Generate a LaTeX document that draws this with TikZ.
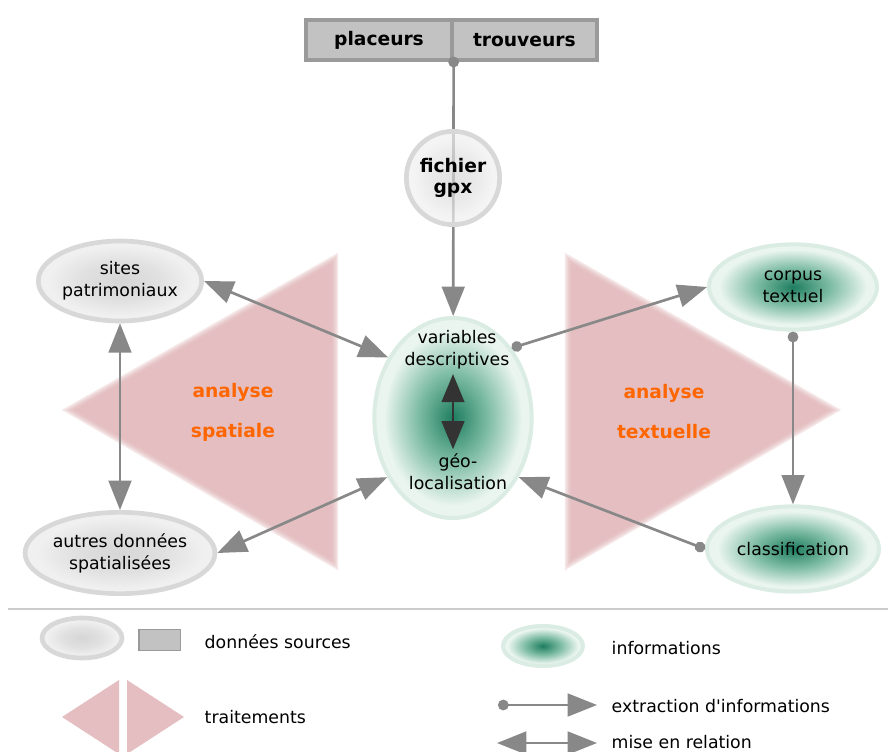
\documentclass[tikz,border=0pt]{standalone}
\usepackage{fontspec}
\setmainfont{DejaVu Sans}
\usepackage{tikz}
\usetikzlibrary{shapes.geometric,arrows.meta,positioning,calc}
\definecolor{linkgray}{RGB}{136,136,136}
\definecolor{boxfill}{RGB}{194,194,194}
\definecolor{boxline}{RGB}{154,154,154}
\definecolor{treat}{RGB}{222,177,179}
\definecolor{treatflat}{RGB}{228,190,192}
\definecolor{orng}{RGB}{255,102,0}
\definecolor{infodark}{RGB}{30,125,95}
\definecolor{infomid}{RGB}{125,188,164}
\definecolor{infopale}{RGB}{234,245,240}
\definecolor{inforim}{RGB}{218,236,228}
\definecolor{srcdark}{RGB}{214,214,214}
\definecolor{srcpale}{RGB}{240,240,240}
\definecolor{srcrim}{RGB}{216,216,216}
\definecolor{sepline}{RGB}{204,204,204}
\definecolor{darkarrow}{RGB}{51,51,51}
\pgfdeclareradialshading{infoglow}{\pgfpoint{0bp}{0bp}}{color(0bp)=(infodark);color(11bp)=(infomid);color(22bp)=(infopale);color(25bp)=(infopale);color(50bp)=(infopale)}
\pgfdeclareradialshading{srcglow}{\pgfpoint{0bp}{0bp}}{color(0bp)=(srcdark);color(12bp)=(srcdark!60!srcpale);color(22bp)=(srcpale);color(25bp)=(srcpale);color(50bp)=(srcpale)}

\begin{document}
\begin{tikzpicture}[x=0.75pt,y=-0.75pt,font=\fontsize{13}{16.5}\selectfont,
  src/.style={ellipse,inner sep=0pt,shading=srcglow,draw=srcrim,line width=3.5pt,align=center},
  info/.style={ellipse,inner sep=0pt,shading=infoglow,draw=inforim,line width=3pt,align=center},
  srcbox/.style={rectangle,draw=boxline,fill=boxfill,line width=3pt,minimum width=109pt,minimum height=30pt,font=\fontsize{14}{16}\selectfont\bfseries},
  extract/.style={linkgray,line width=2pt,{Circle[length=8pt]}-{Triangle[length=22pt,width=17pt]}},
  relate/.style={linkgray,line width=2pt,{Triangle[length=22pt,width=17pt]}-{Triangle[length=22pt,width=17pt]}},
  title/.style={text=orng,font=\fontsize{14}{30}\selectfont\bfseries,align=center},
  keytxt/.style={anchor=west}]
\useasboundingbox (0,0) rectangle (888,752);

\foreach \s in {1.035,1.017,1.0,0.983,0.965}{
  \fill[treat,opacity=0.3,shift={(246,411)},scale=\s] (-178,-1) -- (89,-153) -- (89,154) -- cycle;
  \fill[treat,opacity=0.3,shift={(657,411)},scale=\s] (178,-1) -- (-89,-153) -- (-89,154) -- cycle;
}
\node[title] (spat) at (233,412) {analyse\\spatiale};
\node[title] (text) at (664,412) {analyse\\textuelle};

\node[info,minimum width=118pt,minimum height=150pt] (ctr) at (453,418) {};
\node[align=center] (vardesc) at (457,350) {variables\\descriptives};
\node[align=center] (geoloc) at (458,472) {géo-\\localisation};
\draw[darkarrow,line width=1.5pt,{Triangle[length=21pt,width=17pt]}-{Triangle[length=21pt,width=17pt]}]
  (vardesc.south -| ctr) -- (geoloc.north -| ctr);

\node[srcbox] (plac) at (379,40) {placeurs};
\node[srcbox,right=-3pt of plac] (trouv) {trouveurs};
\coordinate (gpxsrc) at ([yshift=4pt]plac.south east);
\draw[extract] (gpxsrc) -- (ctr);
\node[src,circle,minimum size=70pt,fill opacity=0.7,text opacity=1,
  font=\fontsize{14}{16}\selectfont\bfseries] (gpx) at (453,178) {fichier\\gpx};

\node[src,minimum width=121pt,minimum height=60pt] (sites) at (120,281) {sites\\patrimoniaux};
\node[src,minimum width=124pt,minimum height=61pt] (autres) at (120,553) {autres données\\spatialisées};
\node[info,minimum width=126pt,minimum height=64pt] (corpus) at (793,287) {corpus\\textuel};
\node[info,minimum width=129pt,minimum height=64pt] (classif) at (793,549) {classification};

\draw[relate] (sites.east) -- (ctr.137);
\draw[relate] (autres.east) -- (ctr.-138);
\draw[relate] (sites.south) -- (autres.north);
\draw[extract] (ctr.50) -- (corpus.west);
\draw[extract] (corpus.south) -- (classif.north);
\draw[extract] (classif.west) -- (ctr.-42);

\draw[sepline,line width=1.5pt] (8,609) -- (888,609);

\node[src,minimum width=60pt,minimum height=30pt] (keysrc) at (82,638) {};
\node[rectangle,draw=boxline,fill=boxfill,line width=1pt,minimum width=31pt,minimum height=15.5pt] (keybox) at (159.5,640) {};
\node[keytxt] (keysrctxt) at (200,642) {données sources};
\node[info,minimum width=60pt,minimum height=30pt] (keyinfo) at (543,646) {};
\node[keytxt] (keyinfotxt) at (607,648) {informations};
\fill[treatflat] (62,717) -- (119,680) -- (119,754) -- cycle;
\fill[treatflat] (184,717) -- (127,680) -- (127,754) -- cycle;
\node[keytxt] (keytreat) at (200,717) {traitements};
\coordinate (exA) at (498,705);
\coordinate (exB) at (597,705);
\draw[extract] (exA) -- (exB);
\node[keytxt] (keyex) at (607,706) {extraction d\textquotesingle informations};
\coordinate (reA) at (497,743);
\coordinate (reB) at (597,743);
\draw[relate] (reA) -- (reB);
\node[keytxt] (keyre) at (607,742) {mise en relation};
\end{tikzpicture}
\end{document}
